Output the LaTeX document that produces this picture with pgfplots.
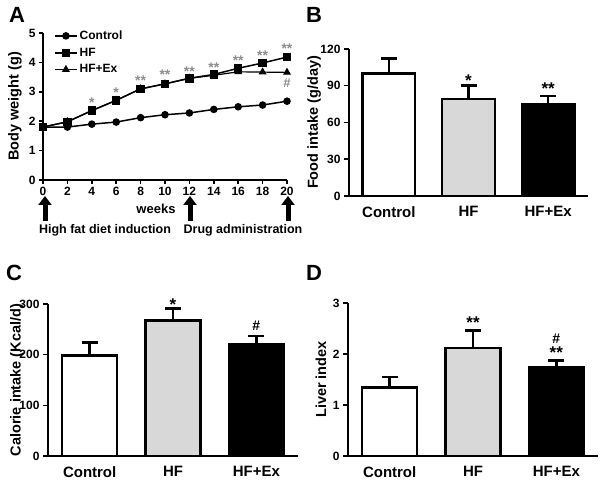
\documentclass[border=0pt]{standalone}
\usepackage{pgfplots}
\pgfplotsset{compat=1.18}
\usepackage{fontspec}
\setmainfont{Liberation Sans}
\usetikzlibrary{arrows.meta}
\definecolor{hfgray}{RGB}{216,216,216}
\definecolor{stargray}{RGB}{140,140,140}
\newcommand{\fs}[1]{\fontsize{#1}{#1}\selectfont\bfseries}
\pgfplotsset{
  base/.style={
    scale only axis,
    anchor=south west,
    axis x line*=bottom, axis y line*=left,
    axis line style={line width=1.5pt, black},
    tick style={line width=1.5pt, black},
    major tick length=5pt,
    tick align=outside,
    /pgf/number format/assume math mode=true,
    yticklabel style={font=\fs{12}},
    ylabel style={font=\fs{14.5}},
    clip=false,
  },
  barax/.style={
    base,
    xmin=-0.5, xmax=2.5, ymin=0,
    xtick={0,1,2}, xticklabels={Control,HF,HF+Ex},
    xticklabel style={font=\fs{15}, yshift=-2pt},
    x tick style={draw=none},
  },
  onebar/.style={
    ybar, bar width=0.66, bar shift=0pt, draw=black, line width=2.5pt,
    error bars/y dir=plus, error bars/y explicit,
    error bars/error bar style={line width=2.5pt, black},
    error bars/error mark options={rotate=90, mark size=8pt, line width=2.5pt, black},
  },
  annot/.style n args={3}{
    draw=none, mark=none, forget plot,
    nodes near coords, point meta=explicit symbolic,
    nodes near coords style={anchor=base, yshift=#1, font=\fs{#2}, text=#3, inner sep=0pt},
  },
}
\begin{document}
\begin{tikzpicture}
\useasboundingbox (0pt,0pt) rectangle (600pt,486pt);
% ---------- Panel A ----------
\begin{axis}[base,
  at={(43pt,306pt)}, width=244pt, height=147pt,
  xmin=0, xmax=20, ymin=0, ymax=5,
  xtick={0,2,...,20}, ytick={0,1,...,5},
  major tick length=4pt,
  xticklabel style={font=\fs{12}},
  yticklabel style={font=\fs{12}},
  ylabel={Body weight (g)},
  ylabel style={at={(axis description cs:-0.115,0.5)}, anchor=center},
  legend style={at={(axis description cs:0.045,1.03)}, anchor=north west, draw=none, fill=none,
    font=\fs{12}, row sep=3pt, inner sep=0pt},
  legend cell align=left,
  legend image code/.code={\draw[mark repeat=2,mark phase=2] plot coordinates {(0pt,0pt)(11pt,0pt)(22pt,0pt)};},
]
\addplot[black, line width=1.5pt, mark=*, mark size=3pt, mark options={solid}] coordinates {
 (0,1.80) (2,1.80) (4,1.90) (6,1.97) (8,2.12) (10,2.22) (12,2.28) (14,2.40) (16,2.49) (18,2.55) (20,2.68)};
\addlegendentry{Control}
\addplot[black, line width=1.5pt, mark=square*, mark size=3.5pt] coordinates {
 (0,1.80) (2,1.98) (4,2.36) (6,2.71) (8,3.10) (10,3.27) (12,3.46) (14,3.59) (16,3.80) (18,3.98) (20,4.18)};
\addlegendentry{HF}
\addplot[black, line width=1.2pt, mark=triangle*, mark size=3.5pt] coordinates {
 (0,1.80) (2,1.98) (4,2.36) (6,2.71) (8,3.10) (10,3.27) (12,3.46) (14,3.56) (16,3.68) (18,3.67) (20,3.66)};
\addlegendentry{HF+Ex}
\addplot[annot={-8pt}{14}{stargray}] coordinates {
 (4,2.73) [*] (6,3.08) [*] (8,3.48) [**] (10,3.68) [**] (12,3.80) [**] (14,3.93) [**] (16,4.16) [**] (18,4.34) [**] (20,4.59) [**]};
\addplot[annot={-4.6pt}{13}{stargray}] coordinates {(20,3.31) [\#]};
\end{axis}
% arrows and texts under A
\foreach \ax in {45,190,288} {
  \draw[line width=5pt, -{Triangle[width=13pt,length=9pt]}] (\ax pt,265pt) -- (\ax pt,290pt);
}
\node[font=\fs{13}] at (156pt,277pt) {weeks};
\node[font=\fs{12.5}] at (105pt,256pt) {High fat diet induction};
\node[font=\fs{12.5}] at (243pt,256pt) {Drug administration};
% ---------- Panel B ----------
\begin{axis}[barax,
  at={(349pt,290pt)}, width=239pt, height=147pt,
  ymax=120, ytick={0,30,...,120},
  ylabel={Food intake (g/day)},
  ylabel style={at={(axis description cs:-0.146,0.5)}, anchor=center},
]
\addplot[onebar, fill=white] coordinates {(0,100) +- (0,12.4)};
\addplot[onebar, fill=hfgray] coordinates {(1,79) +- (0,11.2)};
\addplot[onebar, fill=black] coordinates {(2,75.2) +- (0,6.3)};
\addplot[annot={-9pt}{17}{black}] coordinates {(1,96.9) [*] (2,89.8) [**]};
\end{axis}
% ---------- Panel C ----------
\begin{axis}[barax,
  at={(48pt,30pt)}, width=250pt, height=152pt,
  ymax=300, ytick={0,100,...,300},
  ylabel={Calorie intake (Kcal/d)},
  ylabel style={at={(axis description cs:-0.124,0.5)}, anchor=center},
]
\addplot[onebar, fill=white] coordinates {(0,198) +- (0,26)};
\addplot[onebar, fill=hfgray] coordinates {(1,267) +- (0,24)};
\addplot[onebar, fill=black] coordinates {(2,221.5) +- (0,15.5)};
\addplot[annot={-9pt}{17}{black}] coordinates {(1,304.5) [*]};
\addplot[annot={-5pt}{14}{black}] coordinates {(2,256.6) [\#]};
\end{axis}
% ---------- Panel D ----------
\begin{axis}[barax,
  at={(348pt,30pt)}, width=250pt, height=153pt,
  ymax=3, ytick={0,1,2,3},
  ylabel={Liver index},
  ylabel style={at={(axis description cs:-0.108,0.5)}, anchor=center},
]
\addplot[onebar, fill=white] coordinates {(0,1.34) +- (0,0.21)};
\addplot[onebar, fill=hfgray] coordinates {(1,2.12) +- (0,0.34)};
\addplot[onebar, fill=black] coordinates {(2,1.74) +- (0,0.13)};
\addplot[annot={-9pt}{17}{black}] coordinates {(1,2.67) [**] (2,2.08) [**]};
\addplot[annot={-5pt}{14}{black}] coordinates {(2,2.31) [\#]};
\end{axis}
% panel letters
\node[font=\fs{22}, anchor=north west, inner sep=0pt] at (9pt,479pt) {A};
\node[font=\fs{22}, anchor=north west, inner sep=0pt] at (306pt,479pt) {B};
\node[font=\fs{22}, anchor=north west, inner sep=0pt] at (6pt,221pt) {C};
\node[font=\fs{22}, anchor=north west, inner sep=0pt] at (306pt,221pt) {D};
\end{tikzpicture}
\end{document}
